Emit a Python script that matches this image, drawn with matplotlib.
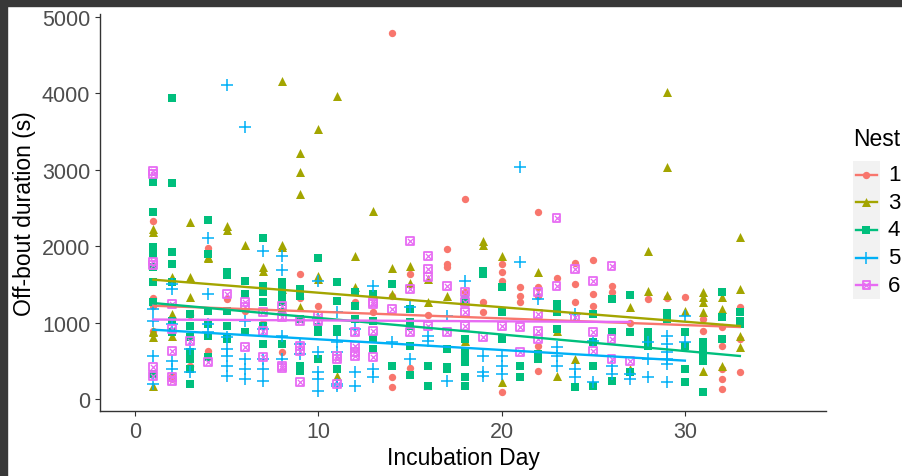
import numpy as np
import matplotlib
matplotlib.use('Agg')
import matplotlib.pyplot as plt
from matplotlib.patches import Rectangle

plt.rcParams['font.family'] = ['Liberation Sans', 'DejaVu Sans']

# off-bout durations (s) per nest
nest1_day = [1,1,1,1, 2,2, 3,3, 4,4, 5, 6, 7, 8, 9,9, 10, 12, 13, 14,14,14,14, 15,15, 16,
             17,17,17, 18,18, 19,19, 20,20,20,20, 21,21,21, 22,22,22,22,22, 23, 24,24,24,
             25,25,25, 26,26, 27, 28, 29, 30, 31,31, 32,32,32,32,32, 33,33,33]
nest1_val = [2334,1317,1221,894, 305,262, 436,1100, 1972,632, 1309, 1150, 1000, 611, 1636,1317, 1221,
             1265, 1134, 4795,1352,283,152, 1636,401, 1100, 1963,1767,1732, 2618,1396, 1274,1134,
             1767,1666,1549,87, 1462,1352,1265, 2452,1462,1352,698,371, 1579, 1780,1505,1274,
             1823,1374,1221, 1483,1396, 1000, 1309, 1317, 1331, 1047,894, 938,698,393,262,131,
             1200,785,358]

nest3_day = [1,1,1,1,1,1, 2,2,2, 3,3,3,3, 4,4, 5,5, 6, 7,7, 8,8,8,8, 9,9,9,9, 10,10,10, 11,11,
             12,12, 13, 14,14, 15,15, 16,16, 17, 18, 19,19, 20,20, 22, 23,23, 24, 27,27, 28,28,
             29,29,29, 30, 31,31,31,31,31, 32,32,32, 33,33,33,33]
nest3_val = [2225,2181,894,872,807,174, 1592,1112,829, 2321,1592,1331,829, 1854,1841, 2260,2216, 2016,
             1723,1680, 4158,2016,1985,1440, 3215,2967,2683,1200, 3530,1606,1570, 3970,297,
             1867,1462, 2465, 1710,1374, 1736,1518, 1570,1265, 1352, 763, 2072,2016, 1876,218, 1666,
             894,305, 523, 1200,393, 1941,1418, 4022,3041,1361, 1156, 1396,1331,1265,1134,371,
             1331,1178,436, 2116,1440,829,676]

nest4_day = [1,1,1,1,1,1,1,1, 2,2,2,2,2,2,2, 3,3,3,3,3,3,3, 4,4,4,4,4,4, 5,5,5,5,5, 6,6,6,
             7,7,7,7,7,7, 8,8,8,8,8,8, 9,9,9,9,9, 10,10,10,10, 11,11,11,11,11, 12,12,12,
             13,13,13,13, 14,14, 15,15,15,15,15, 16,16, 17,17,17, 18,18,18,18,18,18,18, 19,19,
             20,20,20, 21,21, 22,22, 23,23,23, 24, 25,25,25,25, 26,26,26, 27,27,27, 28,28,28,
             29,29, 30,30,30,30, 31,31,31,31,31, 32,32,32, 33,33,33]
nest4_val = [2836,2443,1985,1898,1723,1527,1265,327, 3944,2823,1919,1767,1527,1025,872,
             1112,960,807,611,523,393,196, 2343,1898,1156,981,829,545, 1658,1623,1156,960,785,
             1549,1374,872, 2103,1483,1396,1265,960,720, 1527,1462,1374,1265,1134,720,
             1440,1352,1047,436,371, 1841,938,872,523, 1536,1287,916,872,393, 1405,1221,1047,
             1374,1025,785,654, 1505,436, 1178,1003,960,698,314, 436,174, 654,414,393,
             1309,785,611,545,480,283,174, 1680,1636, 1462,1134,785, 436,283, 589,523,
             1243,1134,916, 152, 1112,742,436,174, 1309,872,240, 1361,872,349, 872,785,698,
             1125,1047, 872,698,393,218, 742,654,567,502,87, 1396,1069,785, 1134,1025,981]

nest5_day = [1,1,1,1, 2,2,2,2,2, 3,3, 4,4,4,4, 5,5,5,5,5,5, 6,6,6,6,6, 7,7,7,7,7, 8,8,8,8,
             9,9, 10,10,10,10,10,10, 11,11,11,11,11, 12,12,12, 13,13,13, 14, 15,15, 16,16, 17,17,
             18, 19,19,19, 20,20,20, 21,21, 22, 23,23,23, 24,24,24, 25,25, 26,26, 27,27,
             28,28,28, 29,29,29,29,29,29, 30,30]
nest5_val = [1178,1025,567,196, 1505,1440,981,502,393, 654,349, 2103,1374,981,872,
             4110,807,654,567,436,305, 3556,1025,523,393,262, 1941,916,523,393,240, 1867,1693,829,523,
             720,589, 1549,1047,611,349,262,110, 1134,742,611,196,174, 916,349,174, 1483,393,283, 742,
             1200,523, 829,763, 1091,240, 1549, 567,349,297, 567,436,327, 3032,1789, 1309,
             676,567,436, 1112,393,283, 763,218, 436,327, 327,262, 742,523,283,
             829,720,611,523,458,218, 1091,750]

nest6_day = [1,1,1,1,1,1, 2,2,2,2,2, 3, 4, 5, 6,6,6, 7,7,7, 8,8,8,8, 9,9,9,9, 10,10, 11,11,11,
             12,12,12,12, 13,13,13,13, 14, 15,15,15, 16,16,16,16, 17,17, 18,18,18,18, 19, 20,
             21,21, 22,22,22,22, 23,23, 24,24, 25,25,25, 26,26,26, 27]
nest6_val = [2988,2940,1800,1750,414,300, 1243,916,632,283,240, 763, 480, 1374, 1265,1200,676,
             1134,894,545, 1221,1069,436,401, 1025,698,632,227, 1091,1025, 567,523,196,
             872,698,611,567, 1274,1243,894,545, 1178, 2072,1440,872, 1876,1701,1601,960,
             1483,872, 1405,1265,1143,960, 807, 960, 938,611, 1396,1112,894,785, 2365,1483,
             1701,1069, 1549,872,632, 1736,785,523, 502]

# fitted lines (start/end day and value) per nest
fit_day0 = [1, 1, 1, 1, 1]
fit_day1 = [33, 33, 33, 30, 27]
fit_val0 = [1221, 1562, 1256, 907, 1040]
fit_val1 = [942, 955, 563, 502, 1008]

nests = ['1', '3', '4', '5', '6']
colors = ['#F8766D', '#A3A500', '#00BF7D', '#00B0F6', '#E76BF3']
days = [nest1_day, nest3_day, nest4_day, nest5_day, nest6_day]
vals = [nest1_val, nest3_val, nest4_val, nest5_val, nest6_val]


def draw_marker(ax, i, x, y, c):
    if i == 0:
        ax.scatter(x, y, s=28, marker='o', color=c, linewidths=0, zorder=3)
    elif i == 1:
        ax.scatter(x, y, s=42, marker='^', color=c, linewidths=0, zorder=3)
    elif i == 2:
        ax.scatter(x, y, s=30, marker='s', color=c, linewidths=0, zorder=3)
    elif i == 3:
        ax.scatter(x, y, s=70, marker='+', color=c, linewidths=1.1, zorder=3)
    else:
        ax.scatter(x, y, s=32, marker='s', facecolors='none', edgecolors=c, linewidths=1.3, zorder=3)
        ax.scatter(x, y, s=14, marker='x', color=c, linewidths=0.9, zorder=3)


fig = plt.figure(figsize=(9.03, 4.77), dpi=100)
fig.patches.append(Rectangle((0, 1 - 7/477), 1, 7/477, transform=fig.transFigure, color='#383838', zorder=0))
fig.patches.append(Rectangle((0, 0), 7/903, 1, transform=fig.transFigure, color='#383838', zorder=0))

ax = fig.add_axes([100/903, 65/477, 726/903, 397/477])
for i in range(5):
    draw_marker(ax, i, days[i], vals[i], colors[i])
for i in range(5):
    ax.plot([fit_day0[i], fit_day1[i]], [fit_val0[i], fit_val1[i]], color=colors[i], lw=1.7, zorder=4)

ax.set_xlim(-1.91, 37.7)
ax.set_ylim(-157, 5039)
ax.set_xticks([0, 10, 20, 30])
ax.set_yticks([0, 1000, 2000, 3000, 4000, 5000])
ax.spines[['top', 'right']].set_visible(False)
for s in ['left', 'bottom']:
    ax.spines[s].set_color('#333333')
    ax.spines[s].set_linewidth(1.0)
ax.tick_params(colors='#333333', labelcolor='#4D4D4D', labelsize=15.5, length=3.5, width=0.8)
ax.set_xlabel('Incubation Day', fontsize=16.5, labelpad=3)
ax.set_ylabel('Off-bout duration (s)', fontsize=16.5, labelpad=4)

# legend
fig.text(853/903, 1 - 140/477, 'Nest', fontsize=16.5, va='center', ha='left')
lax = fig.add_axes([853/903, 1 - 300/477, 27/903, 138/477])
lax.set_facecolor('#F2F2F2')
lax.set_xlim(0, 1)
lax.set_ylim(5, 0)
lax.set_xticks([])
lax.set_yticks([])
for s in lax.spines.values():
    s.set_visible(False)
for i in range(5):
    lax.plot([0.1, 0.9], [i + 0.5, i + 0.5], color=colors[i], lw=1.7)
    draw_marker(lax, i, [0.5], [i + 0.5], colors[i])
    fig.text(888/903, 1 - (162 + 27.6*(i + 0.5))/477, nests[i], fontsize=16, va='center', ha='left')

fig.savefig('out.png', dpi=100)
